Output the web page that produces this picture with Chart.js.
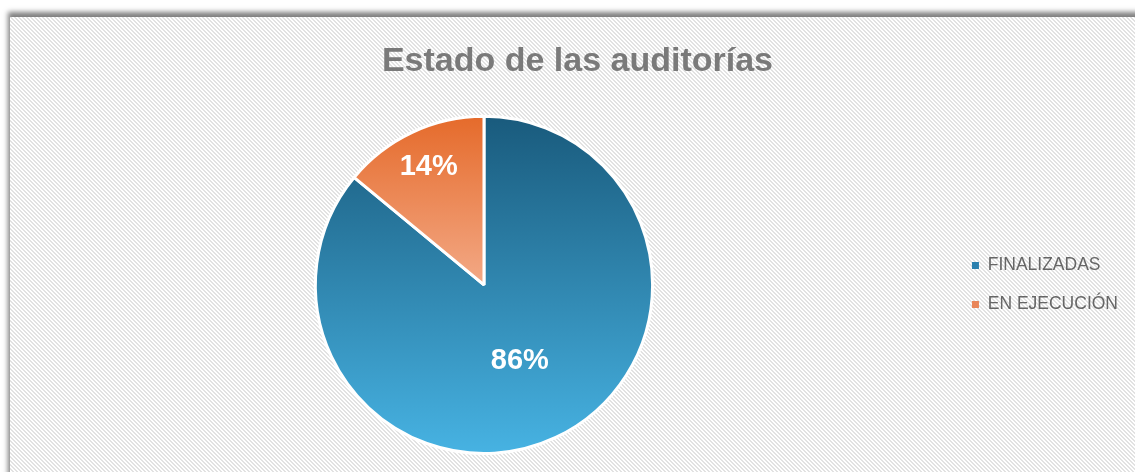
<!DOCTYPE html>
<html>
<head>
<meta charset="utf-8">
<script src="https://cdn.jsdelivr.net/npm/chart.js@4.4.0/dist/chart.umd.min.js"></script>
<style>
    body { margin: 0; background: #fff; width: 1135px; height: 472px; overflow: hidden; position: relative; }
    #card {
        position: absolute; left: 10px; top: 17px; width: 1140px; height: 470px;
        background: #fff;
        box-shadow: -2px -5px 5px rgba(0,0,0,0.5);
    }
    #chart-box { position: absolute; left: 0; top: 0; width: 1135px; height: 455px; }
</style>
</head>
<body>
<div id="card">
    <div id="chart-box"><canvas id="audit-chart"></canvas></div>
</div>
<script>
// datos del gráfico
const labels = ['FINALIZADAS', 'EN EJECUCIÓN'];
const values = [86, 14];
const valueLabels = ['86%', '14%'];

// colores (degradado superior -> inferior)
const blueTop = '#195a7c';
const blueBottom = '#47b3e3';
const orangeTop = '#e56a2a';
const orangeBottom = '#f3a986';
const legendColors = ['#2b80ae', '#e9865a'];

// fondo rayado en diagonal
function makeStripes() {
    const c = document.createElement('canvas');
    c.width = 4;
    c.height = 4;
    const g = c.getContext('2d');
    g.fillStyle = '#ffffff';
    g.fillRect(0, 0, 4, 4);
    g.fillStyle = '#e2e2e2';
    for (let i = 0; i < 4; i++) {
        g.fillRect(i, i, 1, 1);
        g.fillRect((i + 1) % 4, i, 1, 1);
    }
    return c;
}

const stripesPlugin = {
    id: 'stripes',
    beforeDraw(chart) {
        const ctx = chart.ctx;
        ctx.save();
        ctx.fillStyle = ctx.createPattern(makeStripes(), 'repeat');
        ctx.fillRect(0, 0, chart.width, chart.height);
        ctx.restore();
    }
};

// etiquetas de porcentaje dentro de cada sector
const sliceLabelsPlugin = {
    id: 'sliceLabels',
    afterDatasetsDraw(chart, args, opts) {
        const ctx = chart.ctx;
        const meta = chart.getDatasetMeta(0);
        ctx.save();
        ctx.fillStyle = '#ffffff';
        ctx.font = 'bold 29px "Liberation Sans", Arial, sans-serif';
        ctx.textAlign = 'center';
        ctx.textBaseline = 'middle';
        meta.data.forEach((arc, i) => {
            const p = arc.getProps(['x', 'y', 'startAngle', 'endAngle', 'outerRadius'], true);
            const mid = (p.startAngle + p.endAngle) / 2;
            const r = p.outerRadius * opts.radius[i];
            ctx.fillText(valueLabels[i], p.x + Math.cos(mid) * r, p.y + Math.sin(mid) * r);
        });
        ctx.restore();
    }
};

function sliceFill(context) {
    const chart = context.chart;
    const area = chart.chartArea;
    if (!area) return legendColors[context.dataIndex];
    const cy = (area.top + area.bottom) / 2;
    const r = Math.min(area.right - area.left, area.bottom - area.top) / 2;
    const ctx = chart.ctx;
    if (context.dataIndex === 0) {
        const g = ctx.createLinearGradient(0, cy - r, 0, cy + r);
        g.addColorStop(0, blueTop);
        g.addColorStop(1, blueBottom);
        return g;
    }
    const g = ctx.createLinearGradient(0, cy - r, 0, cy);
    g.addColorStop(0, orangeTop);
    g.addColorStop(1, orangeBottom);
    return g;
}

Chart.defaults.font.family = '"Liberation Sans", Arial, sans-serif';

new Chart(document.getElementById('audit-chart').getContext('2d'), {
    type: 'pie',
    data: {
        labels: labels,
        datasets: [{
            data: values,
            backgroundColor: sliceFill,
            borderColor: '#ffffff',
            borderWidth: 3
        }]
    },
    options: {
        responsive: true,
        maintainAspectRatio: false,
        animation: false,
        layout: { padding: { top: 0, bottom: 17, left: 7.5, right: 17 } },
        plugins: {
            title: {
                display: true,
                text: ' Estado de las auditorías',
                color: '#7a7a7a',
                font: { size: 34, weight: 'bold' },
                padding: { top: 24, bottom: 33 }
            },
            legend: {
                position: 'right',
                title: { display: true, text: '', font: { size: 10 }, padding: 43 },
                labels: {
                    boxWidth: 7,
                    boxHeight: 7,
                    padding: 21.5,
                    color: '#595959',
                    font: { size: 17.5 },
                    generateLabels: () => labels.map((l, i) => ({
                        text: l,
                        fillStyle: legendColors[i],
                        strokeStyle: legendColors[i],
                        lineWidth: 0,
                        index: i
                    }))
                }
            },
            tooltip: { enabled: false },
            sliceLabels: { radius: [0.5, 0.77] }
        }
    },
    plugins: [stripesPlugin, sliceLabelsPlugin]
});
</script>
</body>
</html>
